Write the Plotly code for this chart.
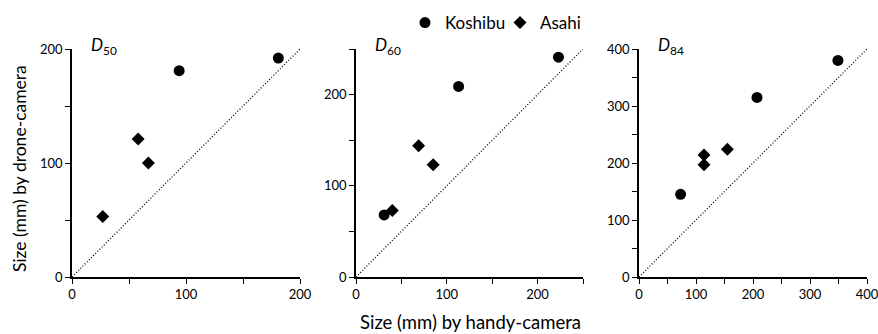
import plotly.graph_objects as go

# ---- data ----
panels = ["D50", "D60", "D84"]
k50_x = [94, 181]
k50_y = [181, 192]
a50_x = [27, 58, 67]
a50_y = [53, 121, 100]

k60_x = [31, 113, 223]
k60_y = [68, 209, 241]
a60_x = [40, 69, 85]
a60_y = [73, 144, 123]

k84_x = [73, 207, 349]
k84_y = [145, 315, 380]
a84_x = [114, 114, 155]
a84_y = [214, 197, 224]

axis_max = [200, 250, 400]

FONT = "Lato"
fig = go.Figure()

data = [(k50_x, k50_y, a50_x, a50_y), (k60_x, k60_y, a60_x, a60_y), (k84_x, k84_y, a84_x, a84_y)]

W, H = 878, 334
ml, mr, mt, mb = 72, 11, 49, 57
pw = W - ml - mr
ph = H - mt - mb
domains_px = [(72, 300), (356, 583), (639, 867)]
domains = [((a - ml) / pw, (b - ml) / pw) for a, b in domains_px]

for i, (kx, ky, ax_, ay) in enumerate(data):
    n = "" if i == 0 else str(i + 1)
    xa, ya = "x" + n, "y" + n
    m = axis_max[i]
    fig.add_trace(go.Scatter(x=[0, m], y=[0, m], mode="lines",
                             line=dict(color="black", width=1.3, dash="1px,2px"),
                             xaxis=xa, yaxis=ya, showlegend=False, hoverinfo="skip"))
    fig.add_trace(go.Scatter(x=kx, y=ky, mode="markers", name="Koshibu",
                             marker=dict(symbol="circle", size=11, color="black"),
                             xaxis=xa, yaxis=ya, showlegend=(i == 0), legend="legend"))
    fig.add_trace(go.Scatter(x=ax_, y=ay, mode="markers", name="Asahi",
                             marker=dict(symbol="diamond", size=10, color="black"),
                             xaxis=xa, yaxis=ya, showlegend=(i == 0), legend="legend2"))
    common = dict(range=[0, m], tick0=0, dtick=100, ticks="outside", ticklen=5,
                  tickwidth=1.2, tickcolor="black", showline=True, linecolor="black",
                  linewidth=1.5, showgrid=False, zeroline=False, automargin=False,
                  ticklabeloverflow="allow",
                  minor=dict(tick0=0, dtick=50, ticks="outside", ticklen=5,
                             tickwidth=1.2, tickcolor="black", showgrid=False),
                  tickfont=dict(family=FONT, size=13, color="black"))
    fig.update_layout(**{
        "xaxis" + n: dict(domain=list(domains[i]), anchor=ya, **common),
        "yaxis" + n: dict(domain=[0, 1], anchor=xa, **common),
    })
    sub = panels[i][1:]
    fig.add_annotation(xref="paper", yref="paper",
                       x=(domains_px[i][0] + 17 - ml) / pw, y=(277 - 46) / ph,
                       xanchor="left", yanchor="middle", showarrow=False,
                       text="<i>D</i><sub>" + sub + "</sub>",
                       font=dict(family=FONT, size=17, color="black"))

fig.add_annotation(xref="paper", yref="paper", x=(470 - ml) / pw, y=(277 - 322) / ph,
                   xanchor="center", yanchor="middle", showarrow=False,
                   text="Size (mm) by handy-camera", font=dict(family=FONT, size=18.5, color="black"))
fig.add_annotation(xref="paper", yref="paper", x=(19 - ml) / pw, y=(277 - 169) / ph,
                   xanchor="center", yanchor="middle", showarrow=False, textangle=-90,
                   text="Size (mm) by drone-camera", font=dict(family=FONT, size=17.5, color="black"))

leg_common = dict(orientation="h", y=(277 - 5) / ph, xanchor="left", yanchor="top",
                  itemwidth=30, font=dict(family=FONT, size=17, color="black"),
                  bgcolor="rgba(0,0,0,0)")
fig.update_layout(
    width=W, height=H,
    margin=dict(l=ml, r=mr, t=mt, b=mb, autoexpand=False),
    paper_bgcolor="white", plot_bgcolor="white",
    legend=dict(x=(405 - ml) / pw, **leg_common),
    legend2=dict(x=(500 - ml) / pw, **leg_common),
)

fig.write_html("out.html")
